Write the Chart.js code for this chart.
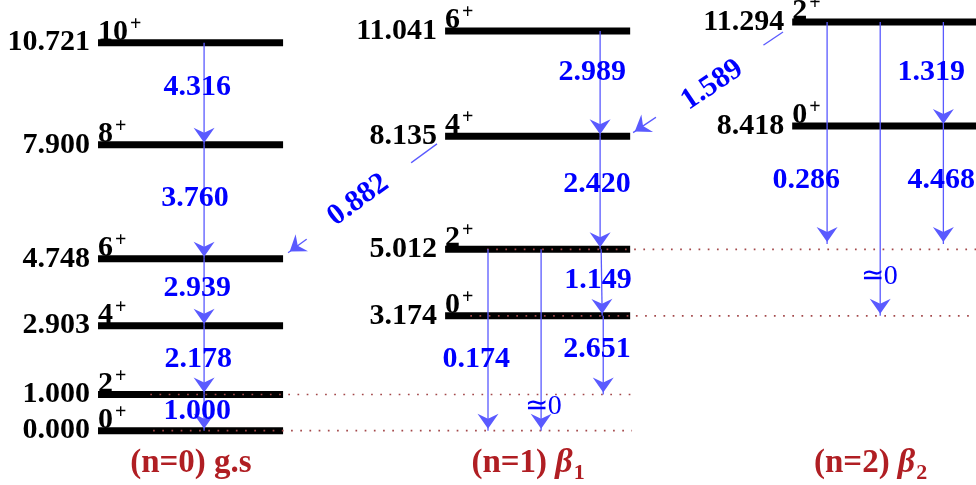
<!DOCTYPE html>
<html>
<head>
<meta charset="utf-8">
<script src="https://cdn.jsdelivr.net/npm/chart.js@4.4.1/dist/chart.umd.min.js"></script>
<style>
  html, body { margin: 0; padding: 0; background: #fff; }
  #wrap { width: 976px; height: 485px; }
</style>
</head>
<body>
<div id="wrap"><canvas id="levels" width="976" height="485"></canvas></div>
<script>
// band titles
const bandNames = ['(n=0) g.s', '(n=1) ', '(n=2) '];
const bandGreek = ['', 'β', 'β'];
const bandSub = ['', '1', '2'];

// level energies and spins for each band
const gsEnergies = [0.000, 1.000, 2.903, 4.748, 7.900, 10.721];
const gsSpins = ['0', '2', '4', '6', '8', '10'];
const beta1Energies = [3.174, 5.012, 8.135, 11.041];
const beta1Spins = ['0', '2', '4', '6'];
const beta2Energies = [8.418, 11.294];
const beta2Spins = ['0', '2'];

// transitions: [band, level index] -> [band, level index], with their B(E2) value
const transFrom = [[0,5],[0,4],[0,3],[0,2],[0,1],
                   [1,3],[1,2],[1,1],[1,0],[1,1],[1,1],[1,2],
                   [2,1],[2,0],[2,1],[2,1],[2,1]];
const transTo   = [[0,4],[0,3],[0,2],[0,1],[0,0],
                   [1,2],[1,1],[1,0],[0,1],[0,0],[0,0],[0,3],
                   [2,0],[1,1],[1,1],[1,0],[1,2]];
const transValues = ['4.316','3.760','2.939','2.178','1.000',
                     '2.989','2.420','1.149','2.651','0.174','≃0','0.882',
                     '1.319','4.468','0.286','≃0','1.589'];

// levels that get a dotted guide line
const guideLevels = [[0,0],[0,1],[1,1],[1,0]];

// ---- layout (band units on x, energy on y) ----
const HALF = 0.2666;
const arrowX = [[0.039,0.039],[0.039,0.039],[0.039,0.039],[0.039,0.039],[0.039,0.039],
                [1.180,1.180],[1.180,1.180],[1.183,1.186],[1.189,1.189],[0.857,0.857],[1.010,1.010],[0.710,0.281],
                [2.169,2.169],[2.169,2.169],[1.834,1.834],[1.987,1.987],[1.707,1.275]];
const arrowNudge = {11: [-0.21, 0.17], 13: [0, 0.15], 14: [0, 0.15], 16: [-0.28, 0.1]};
const labelAt = [[0.019,9.496],[0.013,6.429],[0.019,3.942],[0.022,1.980],[0.019,0.544],
                 [1.157,9.911],[1.171,6.816],[1.174,4.163],[1.171,2.257],[0.823,1.980],[1.016,0.654],[0.483,6.374],
                 [2.134,9.911],[2.163,6.927],[1.774,6.927],[1.984,4.246],[1.503,9.552]];
const tilted = [11, 16];
const guideSpan = [[-0.108,1.272],[-0.116,1.278],[0.854,2.27],[0.806,2.27]];
const titleX = [0.001, 0.971, 1.958];

const ARROW = '#5a5aff';
const SERIF = '"Liberation Serif", "Times New Roman", serif';

const bandEnergies = [gsEnergies, beta1Energies, beta2Energies];
const bandSpins = [gsSpins, beta1Spins, beta2Spins];
const energyOf = ([b, i]) => bandEnergies[b][i];

const levelSets = [];
bandEnergies.forEach((list, b) => list.forEach(e => levelSets.push({
  data: [{x: b - HALF, y: e}, {x: b + HALF, y: e}],
  showLine: true, borderColor: '#000', borderWidth: 7, pointRadius: 0, order: 3
})));

const guideSets = guideLevels.map((g, k) => ({
  data: [{x: guideSpan[k][0], y: energyOf(g)}, {x: guideSpan[k][1], y: energyOf(g)}],
  showLine: true, borderColor: '#a3484a', borderWidth: 1.7, borderDash: [1.7, 7.5],
  pointRadius: 0, order: 2
}));

const arrowSets = transFrom.map((f, k) => {
  const n = arrowNudge[k] || [0, 0];
  return {
    data: [{x: arrowX[k][0], y: energyOf(f) + n[0]}, {x: arrowX[k][1], y: energyOf(transTo[k]) + n[1]}],
    showLine: true, borderColor: ARROW, borderWidth: 1.3, pointRadius: 0, order: 1,
    arrow: k
  };
});

const decor = {
  id: 'decor',
  afterDatasetsDraw(chart) {
    const ctx = chart.ctx;
    const xs = chart.scales.x, ys = chart.scales.y;
    ctx.save();

    // arrowheads and B(E2) labels
    chart.data.datasets.forEach((ds, i) => {
      if (ds.arrow === undefined) return;
      const k = ds.arrow;
      const pts = chart.getDatasetMeta(i).data;
      const a = pts[0], z = pts[1];
      const ang = Math.atan2(z.y - a.y, z.x - a.x);
      ctx.save();
      ctx.translate(z.x, z.y);
      ctx.rotate(ang);
      ctx.beginPath();
      ctx.moveTo(-2, 0);
      ctx.lineTo(-17, -10.5);
      ctx.lineTo(-12, 0);
      ctx.lineTo(-17, 10.5);
      ctx.closePath();
      ctx.fillStyle = ARROW;
      ctx.fill();
      ctx.restore();

      const txt = transValues[k];
      const lx = xs.getPixelForValue(labelAt[k][0]);
      const ly = ys.getPixelForValue(labelAt[k][1]);
      ctx.save();
      ctx.translate(lx, ly);
      ctx.font = (txt.startsWith('≃') ? '28px ' : 'bold 30px ') + SERIF;
      ctx.textAlign = 'center';
      ctx.textBaseline = 'middle';
      if (tilted.includes(k)) {
        ctx.rotate(Math.atan2(a.y - z.y, a.x - z.x));
        const w = ctx.measureText(txt).width + 62;
        ctx.fillStyle = '#fff';
        ctx.fillRect(-w / 2, -15, w, 30);
      }
      ctx.fillStyle = '#0000ff';
      ctx.fillText(txt, 0, 0);
      ctx.restore();
    });

    // energies and spins
    bandEnergies.forEach((list, b) => list.forEach((e, i) => {
      const x0 = xs.getPixelForValue(b - HALF);
      const y = ys.getPixelForValue(e);
      ctx.fillStyle = '#000';
      ctx.font = 'bold 30px ' + SERIF;
      ctx.textAlign = 'right';
      ctx.textBaseline = 'middle';
      ctx.fillText(e.toFixed(3), x0 - 8, y);
      ctx.textAlign = 'left';
      ctx.textBaseline = 'alphabetic';
      const s = bandSpins[b][i];
      ctx.fillText(s, x0, y - 3);
      const sw = ctx.measureText(s).width;
      ctx.font = 'bold 20px ' + SERIF;
      ctx.fillText('+', x0 + sw + 2, y - 13);
    }));

    // band titles
    ctx.fillStyle = '#b01e23';
    ctx.textBaseline = 'alphabetic';
    ctx.textAlign = 'left';
    bandNames.forEach((name, b) => {
      const fMain = 'bold 33px ' + SERIF;
      const fGreek = 'italic bold 34px ' + SERIF;
      const fSub = 'bold 22px ' + SERIF;
      ctx.font = fMain; const w1 = ctx.measureText(name).width;
      ctx.font = fGreek; const w2 = ctx.measureText(bandGreek[b]).width;
      ctx.font = fSub; const w3 = ctx.measureText(bandSub[b]).width;
      let x = xs.getPixelForValue(titleX[b]) - (w1 + w2 + w3) / 2;
      const y = 472;
      ctx.font = fMain; ctx.fillText(name, x, y); x += w1;
      ctx.font = fGreek; ctx.fillText(bandGreek[b], x, y); x += w2 + 1;
      ctx.font = fSub; ctx.fillText(bandSub[b], x, y + 7);
    });
    ctx.restore();
  }
};

new Chart(document.getElementById('levels'), {
  type: 'scatter',
  data: { datasets: [...arrowSets, ...guideSets, ...levelSets] },
  options: {
    responsive: false,
    animation: false,
    devicePixelRatio: 1,
    layout: { padding: 0 },
    scales: {
      x: { type: 'linear', min: -0.549, max: 2.263, display: false },
      y: { type: 'linear', min: -1.5, max: 11.9, display: false }
    },
    plugins: { legend: { display: false }, tooltip: { enabled: false } },
    elements: { line: { tension: 0 }, point: { radius: 0 } }
  },
  plugins: [decor]
});
</script>
</body>
</html>
